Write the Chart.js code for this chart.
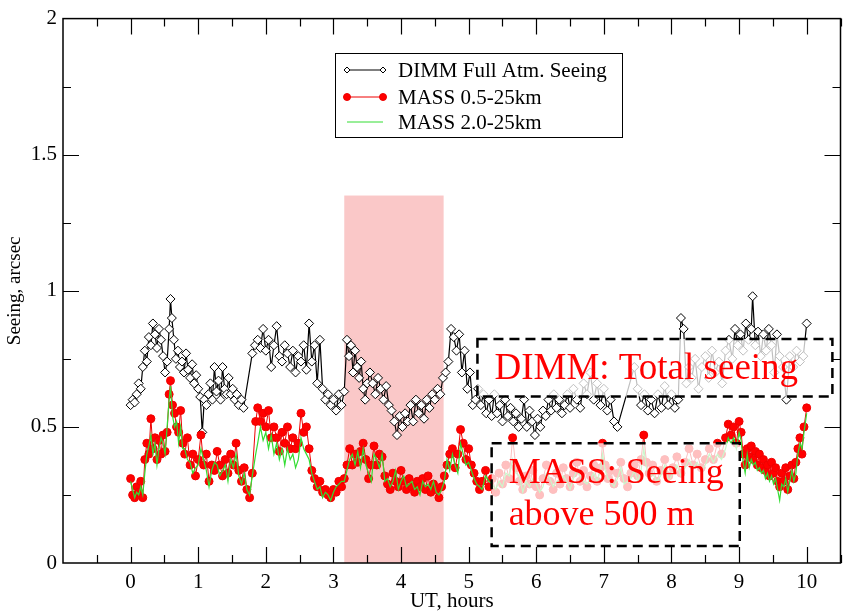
<!DOCTYPE html>
<html>
<head>
<meta charset="utf-8">
<script src="https://cdn.jsdelivr.net/npm/chart.js@4.4.1/dist/chart.umd.min.js"></script>
<style>
  body { margin: 0; background: #fff; }
</style>
</head>
<body>
<canvas id="seeingChart" width="846" height="614"></canvas>
<script>
// DIMM full atmosphere seeing (UT hours / arcsec)
var dimmT = [0.00,0.03,0.06,0.09,0.12,0.15,0.18,0.21,0.24,0.27,0.30,0.33,0.36,0.39,0.42,0.45,0.48,0.51,0.54,0.57,
  0.59,0.61,0.64,0.67,0.70,0.73,0.76,0.79,0.82,0.85,0.88,0.91,0.94,0.97,1.00,1.03,1.06,1.09,1.12,1.15,
  1.18,1.21,1.24,1.27,1.30,1.33,1.36,1.39,1.42,1.45,1.48,1.51,1.54,1.57,1.60,1.64,1.67,1.80,1.84,1.88,
  1.92,1.96,2.00,2.04,2.08,2.12,2.16,2.20,2.24,2.28,2.32,2.36,2.40,2.44,2.48,2.52,2.56,2.60,2.64,2.68,
  2.72,2.76,2.80,2.84,2.88,2.92,2.96,3.00,3.04,3.08,3.12,3.16,3.20,3.23,3.26,3.29,3.32,3.35,3.38,3.41,
  3.44,3.47,3.50,3.54,3.58,3.62,3.66,3.70,3.74,3.78,3.82,3.86,3.90,3.94,3.98,4.02,4.06,4.10,4.14,4.18,
  4.22,4.26,4.30,4.34,4.38,4.42,4.46,4.50,4.54,4.58,4.62,4.66,4.70,4.74,4.78,4.82,4.86,4.90,4.94,4.98,
  5.02,5.06,5.10,5.14,5.18,5.22,5.26,5.30,5.34,5.38,5.42,5.46,5.50,5.54,5.58,5.62,5.66,5.70,5.74,5.78,
  5.82,5.86,5.90,5.94,5.98,6.02,6.06,6.10,6.14,6.18,6.22,6.26,6.30,6.34,6.38,6.42,6.46,6.50,6.55,6.60,
  6.65,6.70,6.75,6.80,6.85,6.90,6.95,7.00,7.05,7.10,7.15,7.20,7.45,7.50,7.55,7.60,7.65,7.70,7.75,7.80,
  7.85,7.90,7.95,8.00,8.05,8.10,8.14,8.18,8.22,8.26,8.30,8.35,8.40,8.45,8.50,8.55,8.60,8.65,8.70,8.75,
  8.80,8.85,8.90,8.94,8.98,9.02,9.06,9.10,9.14,9.18,9.20,9.24,9.28,9.32,9.36,9.40,9.44,9.48,9.52,9.56,
  9.60,9.65,9.70,9.75,9.80,9.85,9.90,9.95,10.00];
var dimm = [0.58,0.60,0.59,0.62,0.66,0.64,0.72,0.78,0.74,0.83,0.80,0.88,0.84,0.79,0.86,0.82,0.76,0.70,0.74,0.86,
  0.97,0.90,0.82,0.75,0.78,0.72,0.74,0.70,0.77,0.71,0.68,0.73,0.66,0.69,0.64,0.61,0.48,0.60,0.58,0.62,
  0.66,0.60,0.72,0.63,0.67,0.60,0.72,0.64,0.62,0.68,0.62,0.64,0.60,0.62,0.58,0.60,0.57,0.77,0.80,0.82,
  0.79,0.86,0.78,0.82,0.72,0.80,0.87,0.76,0.74,0.80,0.77,0.72,0.78,0.70,0.76,0.74,0.80,0.71,0.88,0.74,
  0.80,0.66,0.82,0.64,0.60,0.62,0.58,0.60,0.56,0.62,0.58,0.63,0.82,0.76,0.80,0.70,0.78,0.72,0.68,0.74,
  0.64,0.60,0.66,0.70,0.66,0.62,0.68,0.64,0.60,0.65,0.58,0.56,0.52,0.47,0.54,0.50,0.55,0.52,0.58,0.52,
  0.60,0.55,0.58,0.53,0.60,0.57,0.62,0.60,0.64,0.62,0.68,0.70,0.74,0.86,0.83,0.78,0.84,0.70,0.78,0.64,
  0.70,0.58,0.60,0.64,0.58,0.62,0.55,0.60,0.54,0.62,0.55,0.58,0.52,0.60,0.54,0.57,0.52,0.55,0.50,0.53,
  0.60,0.50,0.56,0.52,0.47,0.53,0.50,0.56,0.54,0.60,0.56,0.62,0.57,0.60,0.55,0.58,0.62,0.57,0.64,0.60,
  0.57,0.66,0.62,0.70,0.60,0.66,0.58,0.64,0.56,0.60,0.52,0.50,0.72,0.64,0.58,0.62,0.56,0.60,0.55,0.62,
  0.57,0.65,0.58,0.62,0.57,0.60,0.90,0.86,0.66,0.72,0.68,0.75,0.64,0.72,0.76,0.68,0.78,0.70,0.74,0.66,
  0.78,0.82,0.75,0.86,0.80,0.84,0.78,0.88,0.82,0.86,0.98,0.80,0.85,0.76,0.84,0.78,0.86,0.80,0.70,0.84,
  0.76,0.72,0.60,0.76,0.72,0.78,0.74,0.76,0.88];

// MASS seeing, 0.5-25 km and 2.0-25 km
var massT = [0.00,0.03,0.06,0.09,0.12,0.15,0.18,0.21,0.24,0.27,0.30,0.33,0.36,0.39,0.42,0.45,0.48,0.51,0.54,0.57,
  0.59,0.62,0.65,0.68,0.71,0.74,0.77,0.80,0.84,0.88,0.92,0.96,1.00,1.04,1.08,1.12,1.16,1.20,1.24,1.28,
  1.32,1.36,1.40,1.44,1.48,1.52,1.56,1.60,1.64,1.68,1.72,1.76,1.80,1.85,1.88,1.92,1.96,2.00,2.04,2.08,
  2.12,2.16,2.20,2.24,2.28,2.32,2.36,2.40,2.44,2.48,2.52,2.56,2.60,2.64,2.68,2.72,2.76,2.80,2.84,2.88,
  2.92,2.96,3.00,3.04,3.08,3.12,3.16,3.20,3.24,3.28,3.32,3.36,3.40,3.44,3.48,3.52,3.56,3.60,3.64,3.68,
  3.72,3.76,3.80,3.84,3.88,3.92,3.96,4.00,4.04,4.08,4.12,4.16,4.20,4.24,4.28,4.32,4.36,4.40,4.44,4.48,
  4.52,4.56,4.60,4.64,4.68,4.72,4.76,4.80,4.84,4.88,4.92,4.96,5.00,5.04,5.08,5.12,5.16,5.20,5.25,5.30,
  5.35,5.40,5.45,5.50,5.55,5.60,5.65,5.70,5.75,5.80,5.85,5.90,5.95,6.00,6.05,6.10,6.15,6.20,6.25,6.30,
  6.35,6.40,6.45,6.50,6.55,6.60,6.65,6.70,6.75,6.80,6.85,6.90,6.95,6.98,7.02,7.06,7.10,7.15,7.20,7.25,
  7.30,7.35,7.40,7.45,7.50,7.55,7.59,7.63,7.67,7.72,7.78,7.84,7.90,7.96,8.02,8.08,8.14,8.20,8.26,8.32,
  8.38,8.44,8.50,8.56,8.62,8.68,8.74,8.80,8.84,8.88,8.92,8.96,9.00,9.03,9.06,9.09,9.12,9.15,9.18,9.21,
  9.24,9.27,9.30,9.33,9.36,9.39,9.42,9.45,9.48,9.51,9.54,9.57,9.60,9.63,9.66,9.69,9.72,9.75,9.78,9.81,
  9.84,9.87,9.90,9.93,9.96,10.00];
var mass05 = [0.31,0.25,0.24,0.28,0.26,0.30,0.24,0.38,0.44,0.40,0.53,0.42,0.46,0.38,0.45,0.40,0.47,0.41,0.48,0.62,
  0.67,0.58,0.55,0.50,0.48,0.56,0.44,0.40,0.46,0.36,0.40,0.32,0.38,0.47,0.36,0.40,0.30,0.36,0.34,0.41,
  0.36,0.32,0.38,0.33,0.40,0.36,0.44,0.34,0.30,0.35,0.27,0.24,0.33,0.52,0.57,0.52,0.55,0.50,0.56,0.46,
  0.50,0.46,0.41,0.48,0.44,0.50,0.42,0.46,0.42,0.44,0.55,0.48,0.50,0.42,0.34,0.31,0.28,0.30,0.26,0.27,
  0.25,0.24,0.27,0.26,0.30,0.28,0.31,0.36,0.42,0.36,0.40,0.37,0.41,0.44,0.38,0.31,0.36,0.43,0.36,0.40,
  0.39,0.32,0.29,0.27,0.33,0.30,0.28,0.34,0.30,0.27,0.31,0.28,0.26,0.30,0.28,0.31,0.27,0.32,0.26,0.29,
  0.27,0.24,0.28,0.32,0.36,0.40,0.42,0.35,0.40,0.49,0.44,0.38,0.42,0.36,0.33,0.30,0.27,0.30,0.34,0.28,
  0.31,0.26,0.33,0.29,0.36,0.31,0.46,0.35,0.30,0.27,0.32,0.29,0.34,0.28,0.25,0.31,0.36,0.30,0.27,0.33,
  0.29,0.35,0.31,0.28,0.33,0.37,0.30,0.34,0.28,0.32,0.36,0.30,0.35,0.44,0.36,0.31,0.34,0.29,0.33,0.37,
  0.31,0.28,0.33,0.36,0.32,0.38,0.47,0.37,0.33,0.36,0.30,0.34,0.38,0.32,0.35,0.39,0.33,0.37,0.42,0.36,
  0.40,0.35,0.38,0.42,0.38,0.44,0.40,0.46,0.51,0.47,0.50,0.44,0.52,0.48,0.40,0.36,0.42,0.39,0.43,0.38,
  0.41,0.36,0.40,0.35,0.38,0.34,0.36,0.32,0.37,0.33,0.35,0.30,0.28,0.33,0.30,0.35,0.27,0.32,0.36,0.31,
  0.37,0.42,0.46,0.40,0.50,0.57];
var mass20 = [0.30,0.27,0.24,0.26,0.25,0.28,0.25,0.33,0.40,0.43,0.47,0.40,0.44,0.36,0.42,0.46,0.44,0.40,0.50,0.60,
  0.65,0.54,0.50,0.52,0.44,0.50,0.42,0.42,0.38,0.37,0.33,0.35,0.36,0.42,0.38,0.34,0.28,0.34,0.37,0.36,
  0.32,0.34,0.36,0.30,0.38,0.35,0.40,0.32,0.29,0.33,0.27,0.25,0.32,0.40,0.44,0.50,0.45,0.48,0.42,0.47,
  0.40,0.44,0.38,0.42,0.36,0.42,0.38,0.40,0.35,0.38,0.46,0.42,0.40,0.38,0.33,0.30,0.27,0.28,0.24,0.26,
  0.25,0.23,0.26,0.28,0.29,0.30,0.30,0.34,0.38,0.40,0.36,0.41,0.35,0.42,0.36,0.33,0.30,0.40,0.38,0.35,
  0.40,0.30,0.31,0.28,0.30,0.34,0.27,0.30,0.32,0.28,0.29,0.30,0.27,0.28,0.25,0.30,0.28,0.29,0.27,0.30,
  0.26,0.25,0.27,0.30,0.38,0.34,0.40,0.36,0.33,0.44,0.40,0.36,0.37,0.34,0.31,0.29,0.28,0.27,0.32,0.30,
  0.29,0.27,0.30,0.28,0.33,0.32,0.38,0.33,0.32,0.26,0.30,0.28,0.31,0.29,0.26,0.28,0.33,0.31,0.28,0.30,
  0.30,0.32,0.30,0.27,0.31,0.34,0.32,0.30,0.29,0.31,0.33,0.30,0.34,0.40,0.34,0.31,0.30,0.28,0.31,0.35,
  0.29,0.30,0.31,0.34,0.30,0.34,0.42,0.35,0.31,0.33,0.30,0.32,0.36,0.30,0.33,0.36,0.32,0.35,0.38,0.35,
  0.37,0.34,0.36,0.40,0.37,0.40,0.38,0.42,0.46,0.44,0.46,0.42,0.48,0.45,0.37,0.33,0.40,0.35,0.38,0.36,
  0.37,0.34,0.35,0.33,0.34,0.31,0.33,0.30,0.32,0.29,0.31,0.27,0.23,0.29,0.28,0.31,0.26,0.30,0.34,0.30,
  0.33,0.40,0.44,0.42,0.48,0.55];

var xTicks = [0,1,2,3,4,5,6,7,8,9,10];
var yTicks = [0,0.5,1,1.5,2];

// shaded interval and the two annotation boxes (data units)
var band = { x0: 3.16, x1: 4.63, yTop: 1.35 };
var dimmNote = { x0: 5.13, x1: 10.38, y0: 0.612, y1: 0.823, size: 37, lines: ['DIMM: Total seeing'] };
var massNote = { x0: 5.34, x1: 9.01, y0: 0.062, y1: 0.44, size: 36, lines: ['MASS: Seeing', 'above 500 m'] };

var serif = "'Liberation Serif', 'DejaVu Serif', serif";

function pts(xs, ys) {
  var out = [];
  for (var i = 0; i < xs.length; i++) out.push({ x: xs[i], y: ys[i] });
  return out;
}

var decor = {
  id: 'decor',
  beforeDatasetsDraw: function(chart) {
    var c = chart.ctx, xs = chart.scales.x, ys = chart.scales.y;
    c.save();
    c.fillStyle = '#fac8c8';
    var l = xs.getPixelForValue(band.x0), r = xs.getPixelForValue(band.x1);
    var t = ys.getPixelForValue(band.yTop), b = ys.getPixelForValue(0);
    c.fillRect(l, t, r - l, b - t);
    c.restore();
  },
  afterDatasetsDraw: function(chart) {
    var c = chart.ctx, xs = chart.scales.x, ys = chart.scales.y, a = chart.chartArea;
    c.save();
    // frame
    c.strokeStyle = '#000';
    c.lineWidth = 1.5;
    c.strokeRect(a.left, a.top, a.right - a.left, a.bottom - a.top);
    // inward ticks on all four sides
    c.lineWidth = 1.2;
    c.beginPath();
    for (var v = -0.5; v <= 10.5; v += 0.5) {
      var px = Math.round(xs.getPixelForValue(v)) + 0.5;
      var len = (v % 1 === 0) ? 16 : 8;
      c.moveTo(px, a.bottom); c.lineTo(px, a.bottom - len);
      c.moveTo(px, a.top); c.lineTo(px, a.top + len);
    }
    for (var w = 0.25; w < 2; w += 0.25) {
      var py = Math.round(ys.getPixelForValue(w)) + 0.5;
      var ln = (w % 0.5 === 0) ? 16 : 8;
      c.moveTo(a.left, py); c.lineTo(a.left + ln, py);
      c.moveTo(a.right, py); c.lineTo(a.right - ln, py);
    }
    c.stroke();

    // annotation boxes
    [dimmNote, massNote].forEach(function(n) {
      var l = xs.getPixelForValue(n.x0), r = xs.getPixelForValue(n.x1);
      var t = ys.getPixelForValue(n.y1), b = ys.getPixelForValue(n.y0);
      c.fillStyle = 'rgba(255,255,255,0.75)';
      c.fillRect(l, t, r - l, b - t);
      c.setLineDash([10, 6]);
      c.lineWidth = 2.5;
      c.strokeStyle = '#000';
      c.strokeRect(l, t, r - l, b - t);
      c.setLineDash([]);
      c.fillStyle = '#ff0000';
      c.font = n.size + 'px ' + serif;
      c.textBaseline = 'alphabetic';
      c.textAlign = 'left';
      for (var i = 0; i < n.lines.length; i++) {
        c.fillText(n.lines[i], l + 17, t + 40 + i * 42);
      }
    });

    // legend
    c.fillStyle = '#fff';
    c.fillRect(335, 53, 287, 84);
    c.lineWidth = 1;
    c.strokeStyle = '#000';
    c.strokeRect(335.5, 53.5, 287, 84);
    var rows = [70, 97, 122];
    chart.data.datasets.forEach(function(ds, k) {
      var y = rows[ds.legendRow];
      c.strokeStyle = ds.borderColor;
      c.lineWidth = 1;
      c.beginPath(); c.moveTo(347, y); c.lineTo(383, y); c.stroke();
      if (ds.pointRadius > 0) {
        [347, 383].forEach(function(x) {
          c.beginPath();
          if (ds.pointStyle === 'rectRot') {
            c.moveTo(x, y - 3); c.lineTo(x + 3, y); c.lineTo(x, y + 3); c.lineTo(x - 3, y); c.closePath();
          } else {
            c.arc(x, y, 3.5, 0, Math.PI * 2);
          }
          c.fillStyle = ds.pointBackgroundColor;
          c.fill();
          c.strokeStyle = ds.pointBorderColor;
          c.stroke();
        });
      }
      c.fillStyle = '#000';
      c.font = '21px ' + serif;
      c.textBaseline = 'middle';
      c.fillText(ds.label, 398, y + 1);
    });
    c.restore();
  }
};

new Chart(document.getElementById('seeingChart'), {
  type: 'scatter',
  data: {
    datasets: [
      {
        label: 'MASS 2.0-25km', legendRow: 2, order: 1,
        data: pts(massT, mass20), showLine: true,
        borderColor: '#33dd33', borderWidth: 1.2,
        pointRadius: 0
      },
      {
        label: 'MASS 0.5-25km', legendRow: 1, order: 2,
        data: pts(massT, mass05), showLine: true,
        borderColor: '#ee0000', borderWidth: 1,
        pointStyle: 'circle', pointRadius: 4,
        pointBackgroundColor: '#ff0000', pointBorderColor: '#ee0000', pointBorderWidth: 1
      },
      {
        label: 'DIMM Full Atm. Seeing', legendRow: 0, order: 3,
        data: pts(dimmT, dimm), showLine: true,
        borderColor: '#000', borderWidth: 1.2,
        pointStyle: 'rectRot', pointRadius: 4.5,
        pointBackgroundColor: '#fff', pointBorderColor: '#000', pointBorderWidth: 1
      }
    ]
  },
  options: {
    responsive: false,
    animation: false,
    devicePixelRatio: 1,
    layout: { padding: { top: 14, right: 0, left: 0, bottom: 0 } },
    plugins: { legend: { display: false }, tooltip: { enabled: false } },
    scales: {
      x: {
        type: 'linear', min: -1, max: 10.5,
        afterBuildTicks: function(s) { s.ticks = xTicks.map(function(v) { return { value: v }; }); },
        afterFit: function(s) { s.height = 51; },
        grid: { display: false, drawTicks: false },
        border: { display: false },
        ticks: { padding: 7, color: '#000', font: { family: serif, size: 21 }, maxRotation: 0,
                 callback: function(v) { return String(v); } },
        title: { display: true, text: 'UT, hours', color: '#000', font: { family: serif, size: 21 }, padding: { top: 0, bottom: 0 } }
      },
      y: {
        min: 0, max: 2,
        afterBuildTicks: function(s) { s.ticks = yTicks.map(function(v) { return { value: v }; }); },
        afterFit: function(s) { s.width = 63; },
        grid: { display: false, drawTicks: false },
        border: { display: false },
        ticks: { padding: 6, color: '#000', font: { family: serif, size: 21 },
                 callback: function(v) { return String(v); } },
        title: { display: true, text: 'Seeing, arcsec', color: '#000', font: { family: serif, size: 19 }, padding: { top: 4, bottom: 0 } }
      }
    }
  },
  plugins: [decor]
});
</script>
</body>
</html>
